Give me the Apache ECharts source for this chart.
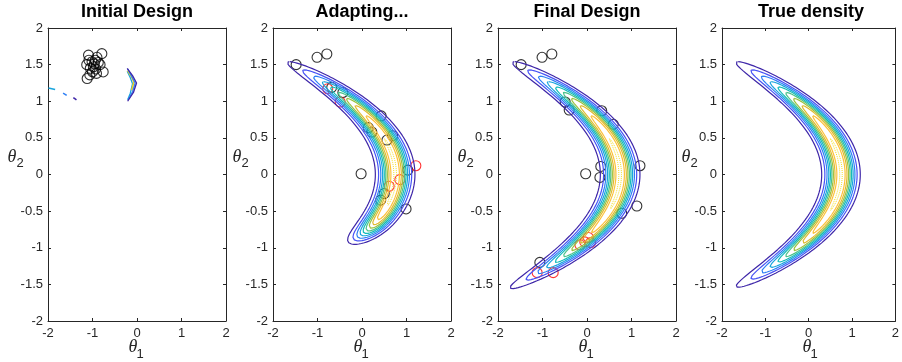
<!DOCTYPE html>
<html><head><meta charset="utf-8">
<script src="https://cdn.jsdelivr.net/npm/echarts@6/dist/echarts.min.js"></script>
<style>html,body{margin:0;padding:0;background:#fff}#c{width:902px;height:362px}</style>
</head><body><div id="c"></div>
<script>
// ---------------- data ----------------
const panelTitles = ['Initial Design', 'Adapting...', 'Final Design', 'True density'];
const xTicks = [-2, -1, 0, 1, 2];
const yTicks = [-2, -1.5, -1, -0.5, 0, 0.5, 1, 1.5, 2];

// contour levels (fraction of peak density) and their colours (parula)
const contourLevels = [0.1, 0.2, 0.3, 0.4, 0.5, 0.6, 0.7, 0.8, 0.9];
const levelColors = ['#3E26A8', '#4752F5', '#2F80F5', '#1AA5DD', '#13BCB8', '#4CC28A', '#9BC13F', '#E0BA30', '#FCC13A'];
const peakLevel = 0.99; // nearly-flat top level, appears as dots

// banana: ridge theta1 = ridgeTop - ridgeCurv*theta2^2
const ridgeTop = 0.745;
const ridgeCurv = 1.0;
const crossWidth = 0.2074;
// tail fall-off along theta2: [scale, power] above / below 0
const tailAdaptingUp = [1.292, 4.75];
const tailAdaptingDown = [0.848, 7.1];
const tailFinalUp = [1.292, 4.75];
const tailFinalDown = [1.30, 4.6];
const tailTrueUp = [1.292, 4.75];
const tailTrueDown = [1.292, 4.75];

// Initial design: small contour fragments
const initFragA = [[-0.22, 1.45], [-0.10, 1.35], [-0.01, 1.25], [-0.08, 1.12], [-0.21, 1.00]];
const initFragB = [[-0.21, 1.44], [-0.12, 1.34], [-0.04, 1.25], [-0.10, 1.13], [-0.20, 1.02]];
const initFragC = [[-0.21, 1.42], [-0.12, 1.33], [-0.07, 1.26], [-0.12, 1.15]];
const initFragD = [[-0.22, 1.41], [-0.15, 1.32], [-0.10, 1.24], [-0.15, 1.11], [-0.21, 1.02]];
const initDash1 = [[-1.99, 1.18], [-1.84, 1.16]];
const initDash2 = [[-1.66, 1.11], [-1.58, 1.08]];
const initDash3 = [[-1.43, 1.05], [-1.36, 1.02]];

// design points
const initialPoints = [[-1.09, 1.63], [-0.79, 1.65], [-0.94, 1.56], [-1.13, 1.50], [-0.98, 1.47], [-0.83, 1.50],
  [-0.76, 1.40], [-1.06, 1.36], [-1.12, 1.31], [-0.91, 1.38], [-1.01, 1.54], [-0.90, 1.60], [-1.05, 1.45],
  [-0.93, 1.44], [-0.87, 1.53], [-1.00, 1.40], [-1.08, 1.56], [-0.96, 1.51]];
const adaptingBlack = [[-1.48, 1.50], [-1.01, 1.60], [-0.79, 1.645], [-0.68, 1.19], [-0.43, 1.12], [0.43, 0.80],
  [0.14, 0.64], [0.22, 0.58], [0.56, 0.47], [0.69, 0.53], [-0.02, 0.01], [1.03, 0.06], [0.50, -0.26],
  [0.42, -0.35], [0.99, -0.47]];
const adaptingRed = [[-0.77, 1.17], [-0.49, 0.99], [1.21, 0.12], [0.85, -0.07], [0.61, -0.16]];
const finalBlack = [[-1.48, 1.50], [-1.01, 1.60], [-0.79, 1.645], [-0.49, 0.99], [-0.40, 0.88], [0.33, 0.87],
  [0.59, 0.685], [0.31, 0.11], [0.29, -0.04], [-0.03, 0.01], [1.19, 0.12], [1.12, -0.43], [0.78, -0.53],
  [-1.06, -1.20]];
const finalRed = [[-1.12, -1.34], [-0.76, -1.34], [-0.16, -0.96], [-0.05, -0.92], [0.03, -0.86], [0.08, -0.93]];

// ---------------- layout ----------------
const gridLeft = [48, 273, 498, 722];
const gridTop = 28, gridW = 178, gridH = 293;
const axisColor = '#262626';
const fontSans = '"Liberation Sans", Arial, Helvetica, sans-serif';

function contourPath(level, up, down) {
  const L = Math.log(1 / level);
  const tUp = up[0] * Math.pow(L, 1 / up[1]);
  const tDn = down[0] * Math.pow(L, 1 / down[1]);
  const n = 160, right = [], left = [];
  for (let i = 0; i <= n; i++) {
    const c = Math.cos(Math.PI * i / n);
    const t2 = c >= 0 ? c * tUp : c * tDn;
    const tl = t2 >= 0 ? Math.pow(t2 / up[0], up[1]) : Math.pow(-t2 / down[0], down[1]);
    const u = crossWidth * Math.sqrt(Math.max(0, 2 * (L - tl)));
    const ridge = ridgeTop - ridgeCurv * t2 * t2;
    right.push([ridge + u, t2]);
    left.push([ridge - u, t2]);
  }
  return right.concat(left.reverse());
}

const series = [];
function lineSeries(i, data, color, type, width) {
  series.push({
    type: 'line', xAxisIndex: 2 * i, yAxisIndex: 2 * i, data: data, showSymbol: false, symbol: 'none',
    silent: true, animation: false, smooth: false,
    lineStyle: { color: color, width: width || 1.2, type: type || 'solid' }
  });
}
function scatterSeries(i, data, color) {
  series.push({
    type: 'scatter', xAxisIndex: 2 * i, yAxisIndex: 2 * i, data: data, symbol: 'circle', symbolSize: 10,
    silent: true, animation: false,
    itemStyle: { color: 'rgba(0,0,0,0)', borderColor: color, borderWidth: 1.1 }
  });
}

// panel 0 fragments
lineSeries(0, initFragD, '#1AA5DD', 'solid', 1.3);
lineSeries(0, initFragC, '#F0D020', 'solid', 1.6);
lineSeries(0, initFragB, '#2F80F5', 'solid', 1.3);
lineSeries(0, initFragA, '#3E26A8', 'solid', 1.3);
lineSeries(0, initDash1, '#1AA5DD', 'solid', 1.6);
lineSeries(0, initDash2, '#2F80F5', 'solid', 1.6);
lineSeries(0, initDash3, '#3E26A8', 'solid', 1.6);
scatterSeries(0, initialPoints, '#000');

const tails = [null, [tailAdaptingUp, tailAdaptingDown], [tailFinalUp, tailFinalDown], [tailTrueUp, tailTrueDown]];
for (let p = 1; p <= 3; p++) {
  contourLevels.forEach((lv, k) => lineSeries(p, contourPath(lv, tails[p][0], tails[p][1]), levelColors[k]));
  lineSeries(p, contourPath(peakLevel, tails[p][0], tails[p][1]), '#F5E020', 'dotted', 1);
}
scatterSeries(1, adaptingBlack, '#000');
scatterSeries(1, adaptingRed, '#FF0000');
scatterSeries(2, finalBlack, '#000');
scatterSeries(2, finalRed, '#FF0000');

const grids = [], xAxes = [], yAxes = [], graphics = [];
for (let i = 0; i < 4; i++) {
  grids.push({ left: gridLeft[i], top: gridTop, width: gridW, height: gridH, containLabel: false });
  const common = {
    gridIndex: i, type: 'value',
    axisLine: { show: true, onZero: false, lineStyle: { color: axisColor, width: 1 } },
    axisTick: { show: true, inside: true, length: 3, lineStyle: { color: axisColor, width: 1 } },
    splitLine: { show: false }
  };
  const lbl = { show: true, fontSize: 13, color: axisColor, fontFamily: fontSans };
  xAxes.push(Object.assign({}, common, { position: 'bottom', min: xTicks[0], max: xTicks[xTicks.length - 1], interval: 1,
    axisLabel: Object.assign({}, lbl, { margin: 6 }) }));
  xAxes.push(Object.assign({}, common, { position: 'top', min: xTicks[0], max: xTicks[xTicks.length - 1], interval: 1,
    axisLabel: { show: false } }));
  yAxes.push(Object.assign({}, common, { position: 'left', min: yTicks[0], max: yTicks[yTicks.length - 1], interval: 0.5,
    axisLabel: Object.assign({}, lbl, { margin: 5 }) }));
  yAxes.push(Object.assign({}, common, { position: 'right', min: yTicks[0], max: yTicks[yTicks.length - 1], interval: 0.5,
    axisLabel: { show: false } }));
  const cx = gridLeft[i] + gridW / 2;
  graphics.push({ type: 'text', x: cx, y: 12.5, silent: true,
    style: { text: panelTitles[i], font: 'bold 18px ' + fontSans, fill: '#000', align: 'center', verticalAlign: 'middle' } });
  graphics.push({ type: 'text', x: cx - 4, y: 347, silent: true,
    style: { text: 'θ', font: 'italic 18px "Liberation Serif", "DejaVu Serif", serif', fill: axisColor, align: 'center', verticalAlign: 'middle' } });
  graphics.push({ type: 'text', x: cx + 3, y: 354, silent: true,
    style: { text: '1', font: '13px ' + fontSans, fill: axisColor, align: 'center', verticalAlign: 'middle' } });
  graphics.push({ type: 'text', x: gridLeft[i] - 36, y: 157, silent: true,
    style: { text: 'θ', font: 'italic 18px "Liberation Serif", "DejaVu Serif", serif', fill: axisColor, align: 'center', verticalAlign: 'middle' } });
  graphics.push({ type: 'text', x: gridLeft[i] - 28, y: 163, silent: true,
    style: { text: '2', font: '13px ' + fontSans, fill: axisColor, align: 'center', verticalAlign: 'middle' } });
}

const chart = echarts.init(document.getElementById('c'), null, { renderer: 'canvas' });
chart.setOption({
  animation: false,
  backgroundColor: '#fff',
  grid: grids, xAxis: xAxes, yAxis: yAxes, series: series, graphic: graphics
});
</script></body></html>
